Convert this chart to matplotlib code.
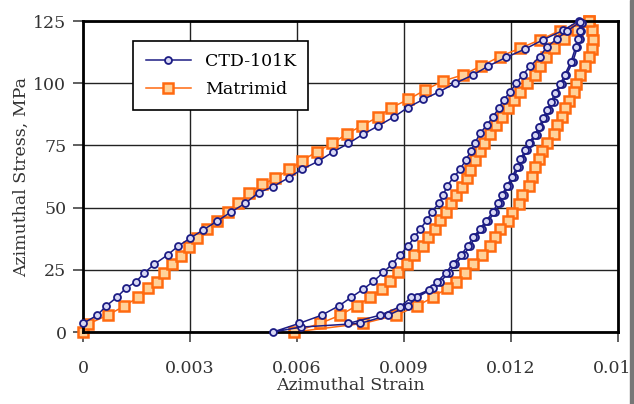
import matplotlib
matplotlib.use("Agg")
import matplotlib.pyplot as plt
from matplotlib.patches import Rectangle

# CTD-101K: loading, unloading, reloading, unloading again
ctd_strain = [0.0, 0.0004, 0.00064, 0.00094, 0.0012, 0.00148, 0.00172, 0.002, 0.00237, 0.00267,
              0.00301, 0.00336, 0.00375, 0.00414, 0.00454, 0.00492, 0.00532, 0.00576, 0.00615, 0.0066,
              0.00702, 0.00744, 0.00786, 0.00828, 0.00872, 0.0091, 0.00954, 0.00999, 0.01043, 0.01093,
              0.01136, 0.01186, 0.0124, 0.0129, 0.01345, 0.01389,
              # unloading 1
              0.01399, 0.01396, 0.01392, 0.01386, 0.01373, 0.01355, 0.01343, 0.01326, 0.01319, 0.01305,
              0.01296, 0.01282, 0.01273, 0.01254, 0.01245, 0.01231, 0.01221, 0.01207, 0.01193, 0.01179,
              0.01168, 0.01156, 0.01136, 0.01118, 0.01099, 0.01085, 0.01067, 0.01043, 0.01025, 0.01001,
              0.00982, 0.00935, 0.0091, 0.00856, 0.00777, 0.0061, 0.00532,
              # reloading
              0.00606, 0.00669, 0.00718, 0.00751, 0.00786, 0.00814, 0.00842, 0.00866, 0.00889, 0.0091,
              0.00929, 0.00945, 0.00964, 0.00978, 0.00999, 0.0101, 0.0102, 0.01039, 0.01057, 0.01073,
              0.01088, 0.01099, 0.01113, 0.01132, 0.01149, 0.01165, 0.01179, 0.01197, 0.01214, 0.01232,
              0.01254, 0.0128, 0.013, 0.01328, 0.01358, 0.01394,
              # unloading 2
              0.01392, 0.01388, 0.01381, 0.01368, 0.01350, 0.01338, 0.01322, 0.01313, 0.01300, 0.01290,
              0.01278, 0.01266, 0.01250, 0.01240, 0.01226, 0.01216, 0.01202, 0.01188, 0.01174, 0.01162,
              0.01150, 0.01130, 0.01112, 0.01094, 0.01078, 0.01060, 0.01036, 0.01017, 0.00993, 0.00969,
              0.00920, 0.00889, 0.00833, 0.00744]
ctd_stress = [3.5, 6.8, 10.4, 13.9, 17.6, 20.2, 23.8, 27.3, 31.0, 34.6,
              37.8, 41.0, 44.5, 48.2, 51.7, 56.0, 58.4, 62.0, 65.5, 68.7,
              72.5, 75.8, 79.6, 82.9, 86.5, 90.2, 93.5, 96.6, 100.0, 103.3,
              106.9, 110.4, 113.8, 117.5, 121.2, 125.0,
              124.0, 121.0, 117.8, 114.5, 108.7, 103.3, 99.7, 96.0, 92.6, 89.2,
              85.9, 82.5, 79.2, 76.1, 73.2, 69.4, 66.2, 62.2, 58.7, 55.1,
              51.8, 48.4, 44.8, 41.3, 38.1, 34.6, 31.0, 27.3, 23.8, 20.2,
              17.6, 13.9, 10.4, 6.8, 3.5, 2.0, 0.0,
              3.5, 6.8, 10.6, 13.9, 17.3, 20.4, 24.0, 27.3, 31.0, 34.5,
              38.1, 41.4, 45.0, 48.4, 52.0, 55.1, 58.7, 62.2, 65.4, 69.2,
              72.9, 76.1, 79.9, 83.2, 86.5, 89.9, 93.3, 96.4, 100.0, 103.3,
              106.9, 110.7, 114.5, 117.8, 121.1, 124.6,
              121.0, 117.8, 114.5, 108.7, 103.3, 99.7, 96.0, 92.6, 89.2, 85.9,
              82.5, 79.2, 76.1, 73.2, 69.4, 66.2, 62.2, 58.7, 55.1, 51.8,
              48.4, 44.8, 41.3, 38.1, 34.6, 31.0, 27.3, 23.8, 20.2, 16.9,
              13.9, 10.2, 6.8, 3.5]

# Matrimid: loading, unloading, reloading
mat_strain = [0.0, 0.00014, 0.00069, 0.00115, 0.00153, 0.00183, 0.00207, 0.00227, 0.0025, 0.00275,
              0.00297, 0.00319, 0.00348, 0.00375, 0.00406, 0.00434, 0.00466, 0.00503, 0.00539, 0.00578,
              0.00615, 0.00655, 0.00699, 0.00739, 0.00781, 0.00828, 0.00864, 0.00912, 0.00959, 0.01009,
              0.01064, 0.01116, 0.01168, 0.01224, 0.01282, 0.01336, 0.01417,
              # unloading
              0.01427, 0.0143, 0.01427, 0.01419, 0.01408, 0.01394, 0.01383, 0.01376, 0.01362, 0.01352,
              0.01343, 0.01329, 0.01319, 0.01301, 0.01287, 0.01277, 0.01268, 0.01259, 0.01249, 0.01231,
              0.01221, 0.01202, 0.0119, 0.0117, 0.01156, 0.0114, 0.01118, 0.01093, 0.01071, 0.01046,
              0.0102, 0.0098, 0.00935, 0.00878, 0.00786, 0.0059,
              # reloading
              0.00665, 0.00721, 0.00767, 0.00805, 0.00837, 0.00861, 0.00884, 0.00908, 0.00929, 0.00952,
              0.00968, 0.00987, 0.01001, 0.01018, 0.01032, 0.01046, 0.01062, 0.01076, 0.01085, 0.011,
              0.01112, 0.01125, 0.01141, 0.01158, 0.01174, 0.01191, 0.01207, 0.01224, 0.01245, 0.01266,
              0.0128, 0.01298, 0.01321, 0.01347, 0.01386, 0.01417]
mat_stress = [0.0, 3.2, 6.8, 10.4, 13.9, 17.6, 20.2, 23.6, 27.2, 30.7,
              34.3, 37.9, 41.4, 44.7, 48.4, 51.7, 55.8, 59.4, 61.8, 65.4,
              68.9, 72.5, 75.8, 79.6, 82.9, 86.5, 90.2, 93.5, 97.3, 100.9,
              103.3, 106.9, 110.7, 114.0, 117.5, 121.1, 125.0,
              121.5, 117.5, 113.9, 110.4, 106.9, 103.3, 99.7, 96.4, 93.0, 89.9,
              86.3, 83.2, 79.6, 76.1, 72.9, 69.4, 66.2, 62.2, 58.7, 55.1,
              51.5, 48.0, 44.8, 41.3, 38.1, 34.6, 31.0, 27.3, 23.8, 20.2,
              17.6, 13.9, 10.4, 6.8, 3.5, 0.0,
              3.5, 6.8, 10.6, 13.9, 17.3, 20.4, 24.0, 27.3, 31.0, 34.5,
              38.1, 41.4, 45.0, 48.4, 52.0, 55.1, 58.4, 61.8, 65.0, 69.0,
              72.9, 76.1, 79.6, 83.2, 86.5, 89.9, 93.3, 96.6, 100.0, 103.3,
              106.9, 110.4, 114.0, 117.6, 121.3, 125.0]

x_ticks = [0, 0.003, 0.006, 0.009, 0.012, 0.015]
x_tick_labels = ["0", "0.003", "0.006", "0.009", "0.012", "0.015"]
y_ticks = [0, 25, 50, 75, 100, 125]

plt.rcParams['font.family'] = ['DejaVu Serif']

fig = plt.figure(figsize=(6.34, 4.04), dpi=100)
ax = fig.add_axes([0.131, 0.178, 0.844, 0.770])

ax.plot(ctd_strain, ctd_stress, color='#1c1c84', lw=1.1, marker='o', ms=5,
        mfc='#d8d8f4', mec='#1c1c84', mew=1.3, label='CTD-101K', clip_on=False, zorder=3)
ax.plot(mat_strain, mat_stress, color='#ff6a10', lw=1.1, marker='s', ms=7,
        mfc='#ffd29a', mec='#ff6a10', mew=1.8, label='Matrimid', clip_on=False, zorder=2)

ax.set_xlim(0, 0.015)
ax.set_ylim(0, 125)
ax.set_xticks(x_ticks)
ax.set_xticklabels(x_tick_labels)
ax.set_yticks(y_ticks)
ax.tick_params(axis='both', labelsize=12.5, color='#444444', length=7, width=1.2,
               labelcolor='#333333')
ax.tick_params(axis='x', pad=13)
ax.tick_params(axis='y', pad=5)
ax.grid(True, color='#222222', lw=1.0)
ax.set_axisbelow(True)
for s in ax.spines.values():
    s.set_linewidth(2.0)
    s.set_color('black')

ax.set_xlabel("Azimuthal Strain", fontsize=12.5, color='#333333', labelpad=0)
ax.set_ylabel("Azimuthal Stress, MPa", fontsize=12.5, color='#333333', labelpad=2)

leg = ax.legend(loc='upper left', bbox_to_anchor=(0.078, 0.965), fontsize=12.5,
                frameon=True, fancybox=False, edgecolor='black', framealpha=1,
                handlelength=2.6, borderpad=0.7, labelspacing=0.65)
leg.get_frame().set_linewidth(1.2)

# dark scan edge at the right border
fig.patches.append(Rectangle((0.993, 0), 0.007, 1, transform=fig.transFigure,
                             color='#777777', zorder=0))

fig.savefig("out.png", dpi=100)
